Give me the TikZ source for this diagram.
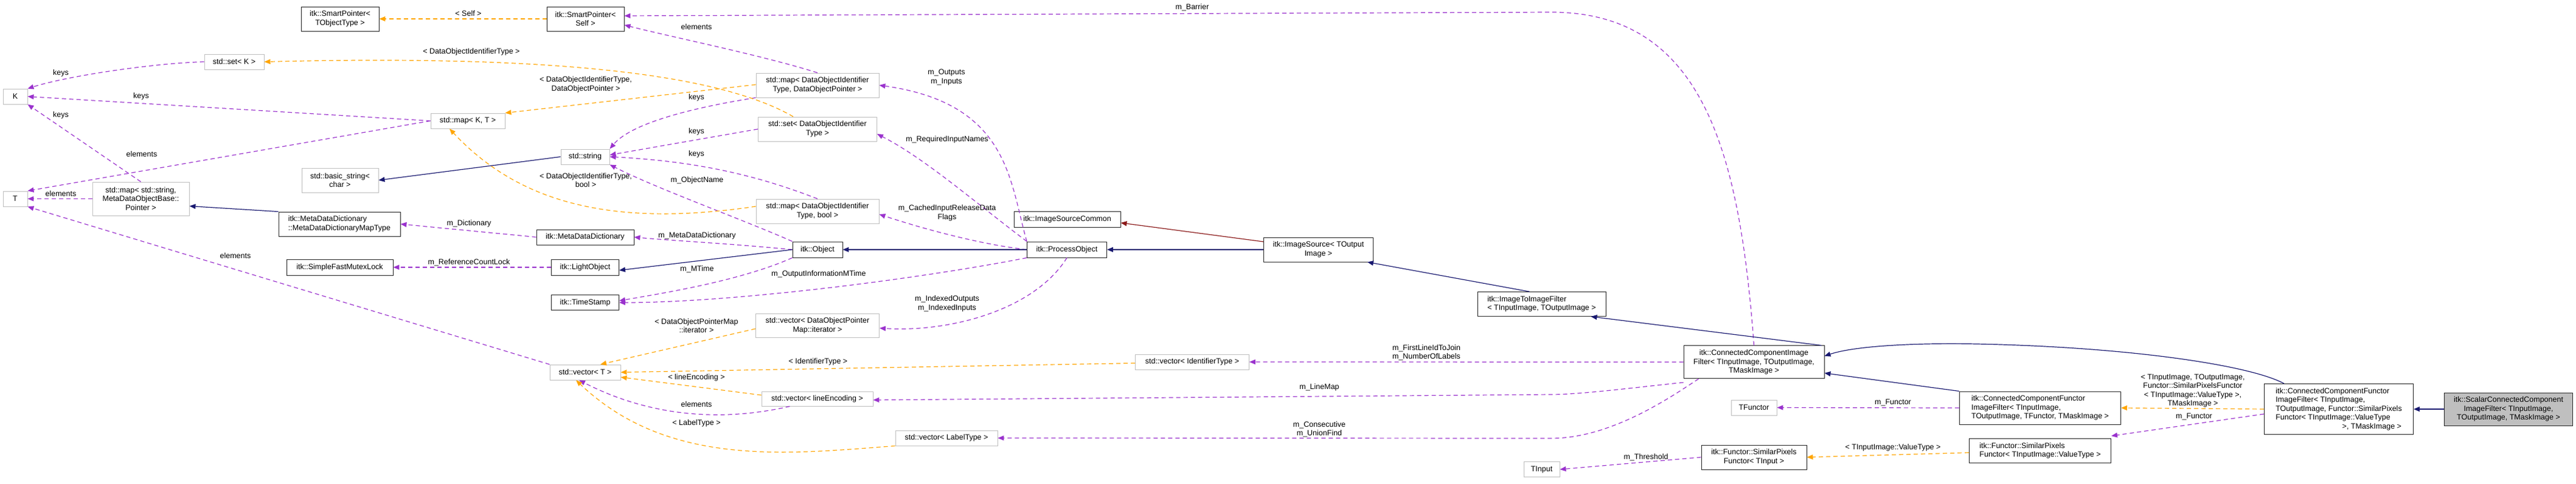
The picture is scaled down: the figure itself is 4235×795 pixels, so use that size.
\documentclass[tikz,border=0pt]{standalone}
\usepackage{fontspec}
\setmainfont{Liberation Sans}
\usetikzlibrary{arrows.meta}
\definecolor{pur}{HTML}{9A32CD}
\definecolor{org}{HTML}{FFA500}
\definecolor{nav}{HTML}{191970}
\definecolor{drd}{HTML}{8B1A1A}
\definecolor{gbd}{HTML}{BFBFBF}
\tikzset{
 box/.style={draw=black!85,line width=0.9pt,inner sep=0pt,align=center,font=\fontsize{12.5}{14.5}\selectfont},
 gbox/.style={box,draw=gbd},
 lbl/.style={inner sep=0pt,align=center,font=\fontsize{12.5}{14.5}\selectfont},
 pe/.style={draw=pur,line width=1.2pt,dash pattern=on 7pt off 5pt,-{Triangle[length=10pt,width=8pt]}},
 oe/.style={draw=org,line width=1.2pt,dash pattern=on 7pt off 5pt,-{Triangle[length=10pt,width=8pt]}},
 ne/.style={draw=nav,line width=1.2pt,-{Triangle[length=10pt,width=8pt]}},
 re/.style={draw=drd,line width=1.2pt,-{Triangle[length=10pt,width=8pt]}},
}
\newcommand{\bx}[7]{\node[#1,minimum width=#5pt,minimum height=#6pt] (#2) at (#3,#4) {#7};}
\begin{document}
\begin{tikzpicture}[x=1pt,y=-1pt]
\useasboundingbox (0,0) rectangle (4235,795);
% nodes
\bx{box}{SPT}{559}{31}{128}{40}{itk::SmartPointer<\\ TObjectType >}
\bx{gbox}{setK}{385}{101.5}{98}{25}{std::set< K >}
\bx{gbox}{K}{25}{158.5}{40}{25}{K}
\bx{gbox}{T}{25}{326.5}{40}{25}{T}
\bx{gbox}{mapSM}{231.5}{326.5}{159}{55}{std::map< std::string,\\ MetaDataObjectBase::\\ Pointer >}
\bx{gbox}{bstr}{559}{296}{126}{40}{std::basic\_string<\\ char >}
\bx{box,align=left}{mddmt}{558}{368}{200}{40}{itk::MetaDataDictionary\\ ::MetaDataDictionaryMapType}
\bx{box}{sfml}{558.5}{439}{175}{26}{itk::SimpleFastMutexLock}
\bx{box}{SPS}{962.5}{31}{127}{40}{itk::SmartPointer<\\ Self >}
\bx{gbox}{mapKT}{769}{198.5}{122}{25}{std::map< K, T >}
\bx{gbox}{str}{962}{257.5}{80}{25}{std::string}
\bx{gbox}{mapDOP}{1344}{140}{202}{40}{std::map< DataObjectIdentifier\\ Type, DataObjectPointer >}
\bx{gbox}{setDOI}{1344}{212}{195}{40}{std::set< DataObjectIdentifier\\ Type >}
\bx{gbox}{mapDB}{1344}{347}{202}{40}{std::map< DataObjectIdentifier\\ Type, bool >}
\bx{box}{mdd}{962}{389.5}{160}{25}{itk::MetaDataDictionary}
\bx{box}{obj}{1344}{410}{82}{26}{itk::Object}
\bx{box}{light}{962}{439}{111}{26}{itk::LightObject}
\bx{box}{ts}{962}{497}{111}{25}{itk::TimeStamp}
\bx{gbox}{vDOPM}{1344}{535}{203}{39}{std::vector< DataObjectPointer\\ Map::iterator >}
\bx{gbox}{vT}{962}{611.5}{116}{25}{std::vector< T >}
\bx{gbox}{vLE}{1343.5}{655}{183}{24}{std::vector< lineEncoding >}
\bx{box}{isc}{1754.5}{360}{175}{26}{itk::ImageSourceCommon}
\bx{box}{po}{1754}{410}{131}{26}{itk::ProcessObject}
\bx{gbox}{vId}{1960}{594.5}{187}{25}{std::vector< IdentifierType >}
\bx{gbox}{vLT}{1556}{719.5}{168}{25}{std::vector< LabelType >}
\bx{box}{isrc}{2167.5}{410}{180}{40}{itk::ImageSource< TOutput\\ Image >}
\bx{box,align=left}{i2i}{2534.5}{499.5}{211}{40}{itk::ImageToImageFilter\\ < TInputImage, TOutputImage >}
\bx{box}{ccif}{2883.5}{594.8}{231}{54}{itk::ConnectedComponentImage\\ Filter< TInputImage, TOutputImage,\\ TMaskImage >}
\bx{gbox}{tin}{2534.5}{771}{59}{25}{TInput}
\bx{gbox}{tfun}{2883.5}{669.5}{75}{25}{TFunctor}
\bx{box,align=left}{ccf1}{3354}{670}{265}{54}{itk::ConnectedComponentFunctor\\ ImageFilter< TInputImage,\\ TOutputImage, TFunctor, TMaskImage >}
\bx{box}{spfT}{2883.5}{751}{173}{40}{itk::Functor::SimilarPixels\\ Functor< TInput >}
\bx{box,align=left}{spfV}{3354}{740.5}{233}{40}{itk::Functor::SimilarPixels\\ Functor< TInputImage::ValueType >}
\bx{box,align=left}{ccf2}{3845}{672}{245}{83}{itk::ConnectedComponentFunctor\\ ImageFilter< TInputImage,\\ TOutputImage, Functor::SimilarPixels\\ Functor< TInputImage::ValueType\\ \hphantom{Functor< TInputIma}>, TMaskImage >}
\bx{box,fill=gbd}{scal}{4124}{672}{211}{54}{itk::ScalarConnectedComponent\\ ImageFilter< TInputImage,\\ TOutputImage, TMaskImage >}
% purple edges
\draw[pe] (setK.west) .. controls (250,104) and (110,125) .. (K.north east);
\draw[pe] (mapKT.west) -- (K.east);
\draw[pe] (mapSM.north) -- (K.south east);
\draw[pe] (mapKT.west) -- (T.north east);
\draw[pe] (mapSM.west) -- (T.east);
\draw[pe] (vT.north west) -- (T.south east);
\draw[pe] (mapDOP.north) .. controls (1250,90) and (1100,60) .. ([yshift=-10pt]SPS.east);
\draw[pe] (mapDOP.south west) .. controls (1150,175) and (1040,200) .. (str.north east);
\draw[pe] (setDOI.west) -- ([yshift=3pt]str.east);
\draw[pe] (mapDB.north) .. controls (1250,290) and (1150,265) .. (str.east);
\draw[pe] (obj.north west) .. controls (1220,360) and (1080,310) .. (str.south east);
\draw[pe] (obj.west) .. controls (1200,400) and (1100,395) .. (mdd.east);
\draw[pe] (mdd.west) -- (mddmt.east);
\draw[pe] (light.west) -- (sfml.east);
\draw[pe] (obj.south west) .. controls (1220,460) and (1100,480) .. ([yshift=3pt]ts.east);
\draw[pe] (po.south west) .. controls (1500,460) and (1200,497) .. (ts.east);
\draw[pe] (po.north west) .. controls (1660,300) and (1660,170) .. (mapDOP.east);
\draw[pe] (po.north west) .. controls (1600,330) and (1520,260) .. ([yshift=-8pt]setDOI.east);
\draw[pe] (po.west) .. controls (1600,400) and (1500,370) .. ([yshift=-5pt]mapDB.east);
\draw[pe] (po.south) .. controls (1700,510) and (1560,546) .. ([yshift=-4pt]vDOPM.east);
\draw[pe] (ccif.north) .. controls (2860,250) and (2800,20) .. (2550,20) -- ([yshift=5pt]SPS.east);
\draw[pe] (ccif.west) -- (vId.east);
\draw[pe] ([yshift=-6pt]ccif.south west) .. controls (2700,635) and (2600,648) .. (2550,648) -- ([yshift=-2pt]vLE.east);
\draw[pe] ([xshift=25pt]ccif.south west) .. controls (2750,650) and (2650,720) .. (2550,720) -- (vLT.east);
\draw[pe] (ccf1.west) -- (tfun.east);
\draw[pe] (spfT.west) -- (tin.east);
\draw[pe] ([yshift=-8pt]ccf2.west) -- ([yshift=4pt]spfV.north east);
\draw[pe] ([xshift=-45pt]vLE.south) .. controls (1200,690) and (1080,690) .. ([xshift=-10pt]vT.south);
% orange edges
\draw[oe] (SPS.west) -- (SPT.east);
\draw[oe] ([xshift=-40pt]setDOI.north) .. controls (1180,120) and (900,90) .. (setK.east);
\draw[oe] ([yshift=1pt]mapDOP.west) -- (mapKT.north east);
\draw[oe] ([yshift=8pt]mapDB.west) .. controls (1000,375) and (850,330) .. ([xshift=-30pt]mapKT.south);
\draw[oe] ([yshift=-5pt]vDOPM.west) -- ([xshift=25pt]vT.north);
\draw[oe] ([yshift=-2pt]vId.west) -- (vT.east);
\draw[oe] ([yshift=6pt]vLE.west) -- ([yshift=-8pt]vT.east);
\draw[oe] (vLT.south west) .. controls (1300,745) and (1100,770) .. ([xshift=-15pt]vT.south);
\draw[oe] (ccf2.west) -- (ccf1.east);
\draw[oe] ([yshift=-3pt]spfV.west) -- (spfT.east);
% navy edges
\draw[ne] (str.west) -- (bstr.east);
\draw[ne] (mddmt.north west) -- ([yshift=-12pt]mapSM.east);
\draw[ne] (obj.west) -- ([yshift=-5pt]light.east);
\draw[ne] (po.west) -- (obj.east);
\draw[ne] (isrc.west) -- (po.east);
\draw[ne] ([xshift=-20pt]i2i.north) -- ([xshift=-10pt]isrc.south east);
\draw[ne] ([xshift=-5pt]ccif.north east) -- ([xshift=-25pt]i2i.south east);
\draw[ne] (ccf1.north west) -- ([yshift=-18pt]ccif.east);
\draw[ne] ([xshift=-90pt]ccf2.north) .. controls (3700,600) and (3500,570) .. (3250,565) .. controls (3150,563) and (3050,568) .. ([yshift=10pt]ccif.east);
\draw[ne] (scal.west) -- (ccf2.east);
\draw[re] ([yshift=13pt]isrc.west) -- ([yshift=-6pt]isc.east);
% labels
\node[lbl] (l1) at (100,120) {keys};
\node[lbl] (l2) at (232,158) {keys};
\node[lbl] (l3) at (100,189) {keys};
\node[lbl] (l4) at (233,253) {elements};
\node[lbl] (l5) at (100,318) {elements};
\node[lbl] (l6) at (387,420) {elements};
\node[lbl] (l7) at (1145,44) {elements};
\node[lbl] (l8) at (1145,160) {keys};
\node[lbl] (l9) at (1145,216) {keys};
\node[lbl] (l10) at (1145,253) {keys};
\node[lbl] (l11) at (1146,296) {m\_ObjectName};
\node[lbl] (l12) at (1146,387) {m\_MetaDataDictionary};
\node[lbl] (l13) at (771,367) {m\_Dictionary};
\node[lbl] (l14) at (771,431) {m\_ReferenceCountLock};
\node[lbl] (l15) at (1146,442) {m\_MTime};
\node[lbl] (l16) at (1346,450) {m\_OutputInformationMTime};
\node[lbl] (l17) at (1556,127) {m\_Outputs\\m\_Inputs};
\node[lbl] (l18) at (1557,229) {m\_RequiredInputNames};
\node[lbl] (l19) at (1557,350) {m\_CachedInputReleaseData\\Flags};
\node[lbl] (l20) at (1557,499) {m\_IndexedOutputs\\m\_IndexedInputs};
\node[lbl] (l21) at (1960,12) {m\_Barrier};
\node[lbl] (l22) at (2345,579) {m\_FirstLineIdToJoin\\m\_NumberOfLabels};
\node[lbl] (l23) at (2169,636) {m\_LineMap};
\node[lbl] (l24) at (2169,705) {m\_Consecutive\\m\_UnionFind};
\node[lbl] (l25) at (3112,661) {m\_Functor};
\node[lbl] (l26) at (2706,751) {m\_Threshold};
\node[lbl] (l27) at (3607,684.5) {m\_Functor};
\node[lbl] (l28) at (1145,664) {elements};
\node[lbl] (o1) at (770,22) {< Self >};
\node[lbl] (o2) at (775,85) {< DataObjectIdentifierType >};
\node[lbl] (o3) at (963,139) {< DataObjectIdentifierType,\\DataObjectPointer >};
\node[lbl] (o4) at (963,296) {< DataObjectIdentifierType,\\bool >};
\node[lbl] (o5) at (1145,535) {< DataObjectPointerMap\\::iterator >};
\node[lbl] (o6) at (1345,594) {< IdentifierType >};
\node[lbl] (o7) at (1145,620) {< lineEncoding >};
\node[lbl] (o8) at (1145,695) {< LabelType >};
\node[lbl] (o9) at (3605,642) {< TInputImage, TOutputImage,\\Functor::SimilarPixelsFunctor\\< TInputImage::ValueType >,\\TMaskImage >};
\node[lbl] (o10) at (3112,735.5) {< TInputImage::ValueType >};
\end{tikzpicture}
\end{document}
